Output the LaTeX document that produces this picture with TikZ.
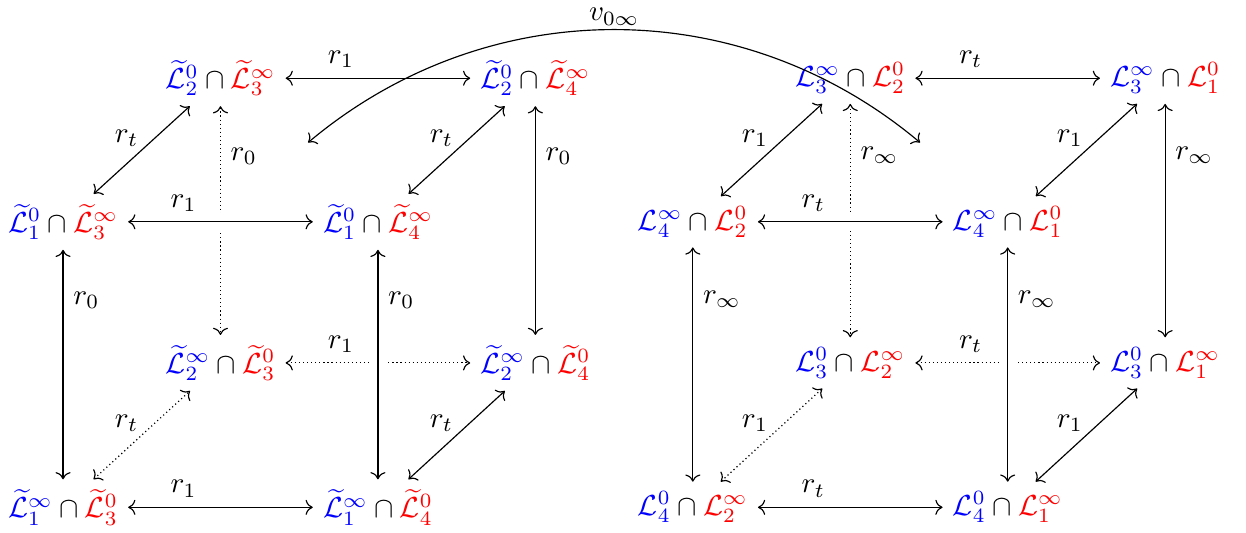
\documentclass[tikz,border=0pt]{standalone}
\usetikzlibrary{arrows.meta, calc}
\newcommand{\tL}[2]{\widetilde{\mathcal{L}}^{#1}_{#2}}
\newcommand{\pL}[2]{\mathcal{L}^{#1}_{#2}}
\newcommand{\bl}[1]{\textcolor{blue}{#1}}
\newcommand{\rd}[1]{\textcolor{red}{#1}}

\begin{document}
\begin{tikzpicture}[
    >=To,
    link/.style={<->},
    hidden/.style={<->, densely dotted},
    over/.style={preaction={draw=white, -, line width=6pt}},
    diag/.style={above left, inner sep=1pt},
]

\useasboundingbox (0,0) rectangle (15.10,6.448);

% =============================================
% LEFT CUBE (tilde)
% =============================================
\node (la) at (2.672, 5.50) {$\bl{\tL{0}{2}} \cap \rd{\tL{\infty}{3}}$};
\node (lb) at (6.488, 5.50) {$\bl{\tL{0}{2}} \cap \rd{\tL{\infty}{4}}$};
\node (lc) at (0.764, 3.76) {$\bl{\tL{0}{1}} \cap \rd{\tL{\infty}{3}}$};
\node (ld) at (4.580, 3.76) {$\bl{\tL{0}{1}} \cap \rd{\tL{\infty}{4}}$};
\node (le) at (2.672, 2.05) {$\bl{\tL{\infty}{2}} \cap \rd{\tL{0}{3}}$};
\node (lf) at (6.488, 2.05) {$\bl{\tL{\infty}{2}} \cap \rd{\tL{0}{4}}$};
\node (lg) at (0.764, 0.30) {$\bl{\tL{\infty}{1}} \cap \rd{\tL{0}{3}}$};
\node (lh) at (4.580, 0.30) {$\bl{\tL{\infty}{1}} \cap \rd{\tL{0}{4}}$};

% hidden edges
\draw[hidden] (la) -- node[right, pos=0.22] {$r_0$} (le);
\draw[hidden] (le) -- node[above, pos=0.3] {$r_1$} (lf);
\draw[hidden] (lg) -- node[diag] {$r_t$} (le);

% visible edges
\draw[link] (la) -- node[above, pos=0.3] {$r_1$} (lb);
\draw[link] (lc) -- node[diag] {$r_t$} (la);
\draw[link] (ld) -- node[diag] {$r_t$} (lb);
\draw[link, over] (lc) -- node[above, pos=0.3] {$r_1$} (ld);
\draw[link] (lb) -- node[right, pos=0.22] {$r_0$} (lf);
\draw[link] (lc) -- node[right, pos=0.22] {$r_0$} (lg);
\draw[link, over] (ld) -- node[right, pos=0.22] {$r_0$} (lh);
\draw[link] (lh) -- node[diag] {$r_t$} (lf);
\draw[link] (lg) -- node[above, pos=0.3] {$r_1$} (lh);

% =============================================
% RIGHT CUBE
% =============================================
\node (ra) at (10.304, 5.50) {$\bl{\pL{\infty}{3}} \cap \rd{\pL{0}{2}}$};
\node (rb) at (14.120, 5.50) {$\bl{\pL{\infty}{3}} \cap \rd{\pL{0}{1}}$};
\node (rc) at (8.396, 3.76) {$\bl{\pL{\infty}{4}} \cap \rd{\pL{0}{2}}$};
\node (rd) at (12.212, 3.76) {$\bl{\pL{\infty}{4}} \cap \rd{\pL{0}{1}}$};
\node (re) at (10.304, 2.05) {$\bl{\pL{0}{3}} \cap \rd{\pL{\infty}{2}}$};
\node (rf) at (14.120, 2.05) {$\bl{\pL{0}{3}} \cap \rd{\pL{\infty}{1}}$};
\node (rg) at (8.396, 0.30) {$\bl{\pL{0}{4}} \cap \rd{\pL{\infty}{2}}$};
\node (rh) at (12.212, 0.30) {$\bl{\pL{0}{4}} \cap \rd{\pL{\infty}{1}}$};

% hidden edges
\draw[hidden] (ra) -- node[right, pos=0.22] {$r_\infty$} (re);
\draw[hidden] (re) -- node[above, pos=0.3] {$r_t$} (rf);
\draw[hidden] (rg) -- node[diag] {$r_1$} (re);

% visible edges
\draw[link] (ra) -- node[above, pos=0.3] {$r_t$} (rb);
\draw[link] (rc) -- node[diag] {$r_1$} (ra);
\draw[link] (rd) -- node[diag] {$r_1$} (rb);
\draw[link, over] (rc) -- node[above, pos=0.3] {$r_t$} (rd);
\draw[link] (rb) -- node[right, pos=0.22] {$r_\infty$} (rf);
\draw[link] (rc) -- node[right, pos=0.22] {$r_\infty$} (rg);
\draw[link, over] (rd) -- node[right, pos=0.22] {$r_\infty$} (rh);
\draw[link] (rh) -- node[diag] {$r_1$} (rf);
\draw[link] (rg) -- node[above, pos=0.3] {$r_t$} (rh);

% === v_{0 infty} between the two top faces ===
\coordinate (lmid) at ($(la)!0.5!(ld)$);
\coordinate (rmid) at ($(ra)!0.5!(rd)$);
\draw[<->, shorten <=4pt, shorten >=4pt] (lmid) to[bend left=40] node[above, inner sep=2pt] {$v_{0\infty}$} (rmid);

\end{tikzpicture}
\end{document}
